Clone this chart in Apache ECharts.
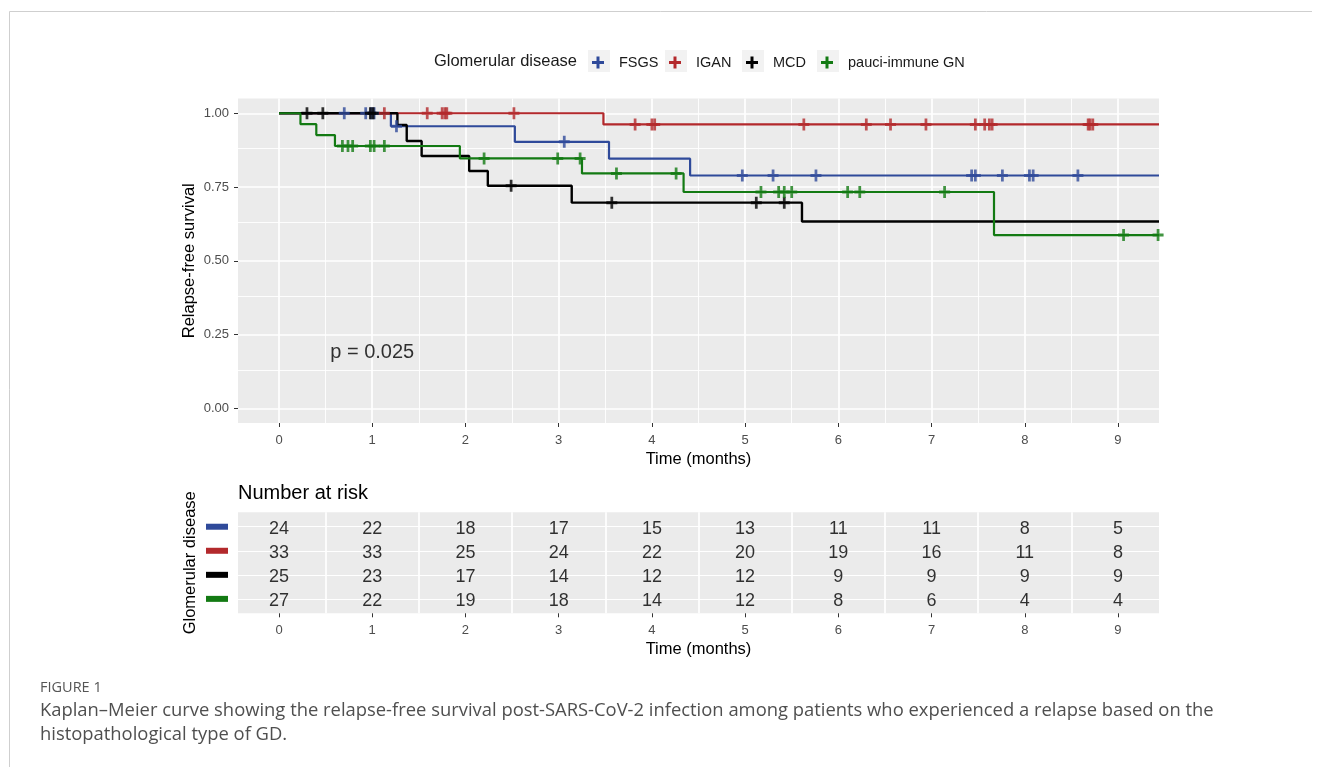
<!DOCTYPE html>
<html><head><meta charset="utf-8">
<script src="https://cdn.jsdelivr.net/npm/echarts@6/dist/echarts.min.js"></script>
<style>html,body{margin:0;padding:0;background:#fff}#c{width:1322px;height:767px}</style>
</head><body><div id="c"></div>
<script>
// ---------- data ----------
const groups = ['FSGS', 'IGAN', 'MCD', 'pauci-immune GN'];
const xTicks = [0, 1, 2, 3, 4, 5, 6, 7, 8, 9];
const yTicks = [0, 0.25, 0.5, 0.75, 1];
const xRange = [-0.44, 9.44];
const yRange = [-0.05, 1.05];

const fsgsTimes = [0, 1.20, 2.53, 3.54, 4.41];
const fsgsSurv  = [1, 0.956, 0.903, 0.846, 0.789];
const fsgsCensor = [0.70, 0.93, 0.99, 1.02, 1.26, 3.06, 4.97, 5.30, 5.76, 7.43, 7.47, 7.76, 8.05, 8.09, 8.57];

const iganTimes = [0, 3.48];
const iganSurv  = [1, 0.962];
const iganCensor = [1.13, 1.59, 1.75, 1.78, 1.80, 2.52, 3.82, 4.00, 4.03, 5.63, 6.30, 6.56, 6.94, 7.47, 7.57, 7.62, 7.65, 8.68, 8.70, 8.73];

const mcdTimes = [0, 1.27, 1.37, 1.53, 2.04, 2.24, 3.14, 5.61];
const mcdSurv  = [1, 0.96, 0.906, 0.855, 0.804, 0.754, 0.697, 0.633];
const mcdCensor = [0.30, 0.47, 0.98, 1.01, 2.49, 3.57, 5.12, 5.42];

const pauciTimes = [0, 0.23, 0.40, 0.60, 1.94, 3.25, 4.34, 7.67];
const pauciSurv  = [1, 0.963, 0.926, 0.889, 0.847, 0.796, 0.733, 0.587];
const pauciCensor = [0.68, 0.74, 0.79, 0.98, 1.02, 1.13, 2.20, 2.99, 3.23, 3.62, 4.26, 5.17, 5.36, 5.42, 5.50, 6.10, 6.23, 7.14, 9.06, 9.43];

const riskTimes = [0, 1, 2, 3, 4, 5, 6, 7, 8, 9];
const riskFSGS  = [24, 22, 18, 17, 15, 13, 11, 11, 8, 5];
const riskIGAN  = [33, 33, 25, 24, 22, 20, 19, 16, 11, 8];
const riskMCD   = [25, 23, 17, 14, 12, 12, 9, 9, 9, 9];
const riskPauci = [27, 22, 19, 18, 14, 12, 8, 6, 4, 4];

const pText = 'p = 0.025';
const pPos = [1.0, 0.19];

// ---------- styling ----------
const colors = ['#2F4A9A', '#B3292C', '#000000', '#137A13'];
const FONT = '"Liberation Sans", Arial, sans-serif';
const CAPFONT = '"Open Sans", sans-serif';
const plusPath = 'path://M4.5,0H7.5V4.5H12V7.5H7.5V12H4.5V7.5H0V4.5H4.5Z';

const times = [fsgsTimes, iganTimes, mcdTimes, pauciTimes];
const survs = [fsgsSurv, iganSurv, mcdSurv, pauciSurv];
const censors = [fsgsCensor, iganCensor, mcdCensor, pauciCensor];
const risks = [riskFSGS, riskIGAN, riskMCD, riskPauci];

function survAt(tArr, sArr, t) {
  let s = sArr[0];
  for (let i = 0; i < tArr.length; i++) if (tArr[i] <= t) s = sArr[i];
  return s;
}

const series = [];
const minorX = xTicks.slice(0, -1).map(v => v + 0.5);
const minorY = yTicks.slice(0, -1).map(v => v + 0.125);
function gridLineSeries(xi, items, width) {
  return {
    type: 'line', xAxisIndex: xi, yAxisIndex: xi, data: [], z: 1, silent: true, animation: false,
    markLine: { z: 1, silent: true, symbol: ['none', 'none'], label: { show: false }, animation: false,
      lineStyle: { color: '#FFFFFF', width: width, type: 'solid' },
      emphasis: { disabled: true },
      data: items }
  };
}
series.push(gridLineSeries(0, minorX.map(v => ({ xAxis: v })).concat(minorY.map(v => ({ yAxis: v }))), 0.9));
series.push(gridLineSeries(0, xTicks.map(v => ({ xAxis: v })).concat(yTicks.map(v => ({ yAxis: v }))), 1.7));
series.push(gridLineSeries(1, minorX.map(v => ({ xAxis: v })), 1.7));
series.push(gridLineSeries(1, [1, 2, 3, 4].map(v => ({ yAxis: v })), 1.1));

groups.forEach((g, i) => {
  const d = times[i].map((t, k) => [t, survs[i][k]]);
  d.push([xRange[1], survs[i][survs[i].length - 1]]);
  series.push({
    name: g, type: 'line', step: 'end', data: d, xAxisIndex: 0, yAxisIndex: 0,
    symbol: 'none', showSymbol: false, color: colors[i], z: 3,
    lineStyle: { width: i === 2 ? 2.4 : 2.2, color: colors[i] }, animation: false
  });
});
groups.forEach((g, i) => {
  series.push({
    name: g + ' censor', type: 'scatter', xAxisIndex: 0, yAxisIndex: 0,
    symbol: plusPath, symbolSize: [11, 12], z: 4,
    itemStyle: { color: colors[i] }, animation: false,
    data: censors[i].map(t => [t, survAt(times[i], survs[i], t)])
  });
});
series.push({
  type: 'scatter', xAxisIndex: 0, yAxisIndex: 0, symbolSize: 1, z: 5,
  itemStyle: { color: 'transparent' }, silent: true, animation: false,
  data: [pPos],
  label: { show: true, position: 'inside', formatter: pText, fontSize: 20, color: '#000', fontFamily: FONT }
});
groups.forEach((g, i) => {
  series.push({
    type: 'scatter', xAxisIndex: 1, yAxisIndex: 1, symbolSize: 1, z: 5,
    itemStyle: { color: 'transparent' }, silent: true, animation: false,
    data: riskTimes.map((t, k) => [t, i + 1, risks[i][k]]),
    label: { show: true, position: 'inside', offset: [0, 2], formatter: p => String(p.value[2]), fontSize: 18, color: '#000', fontFamily: FONT }
  });
});

function xAxisCfg(gi) {
  return {
    type: 'value', gridIndex: gi, min: xRange[0], max: xRange[1], splitNumber: 10,
    axisLine: { show: false, onZero: false },
    axisTick: { show: true, length: 4, lineStyle: { color: '#333', width: 1 }, customValues: xTicks },
    axisLabel: { customValues: xTicks, color: '#4D4D4D', fontSize: 13, margin: 11, fontFamily: FONT,
      formatter: v => (Number.isInteger(v) ? String(v) : '') },
    splitLine: { show: false },
    name: 'Time (months)', nameLocation: 'middle', nameGap: 28, nameMoveOverlap: false,
    nameTextStyle: { fontSize: 16.5, color: '#000', fontFamily: FONT }
  };
}

const richBars = {};
colors.forEach((c, i) => { richBars['g' + (i + 1)] = { width: 22, height: 6, backgroundColor: c }; });

const legendBoxes = [588, 665, 742, 817];
const legends = groups.map((g, i) => ({
  data: [g], left: legendBoxes[i] + 4, top: 55, itemWidth: 14, itemHeight: 12, icon: plusPath,
  selectedMode: false, padding: 0,
  textStyle: { fontSize: 14.5, color: '#1A1A1A', fontFamily: FONT, padding: [0, 0, 0, 9] }
}));

const graphics = [
  { type: 'line', shape: { x1: 9.5, y1: 11.5, x2: 1312, y2: 11.5 }, style: { stroke: '#CFCFCF', lineWidth: 1 } },
  { type: 'line', shape: { x1: 9.5, y1: 11.5, x2: 9.5, y2: 767 }, style: { stroke: '#CFCFCF', lineWidth: 1 } },
  { type: 'text', x: 577, y: 61, style: { text: 'Glomerular disease', fontSize: 16.5, fill: '#1A1A1A', fontFamily: FONT, align: 'right', verticalAlign: 'middle' } },
  { type: 'text', x: 238, y: 493, style: { text: 'Number at risk', fontSize: 20, fill: '#000', fontFamily: FONT, align: 'left', verticalAlign: 'middle' } },
  { type: 'text', x: 40, y: 688, style: { text: 'FIGURE 1', fontSize: 14.5, fill: '#555', fontFamily: CAPFONT, align: 'left', verticalAlign: 'middle' } },
  { type: 'text', x: 40, y: 711, style: { text: 'Kaplan–Meier curve showing the relapse-free survival post-SARS-CoV-2 infection among patients who experienced a relapse based on the', fontSize: 18.4, fill: '#4F4F4F', fontFamily: CAPFONT, align: 'left', verticalAlign: 'middle' } },
  { type: 'text', x: 40, y: 735, style: { text: 'histopathological type of GD.', fontSize: 18.4, fill: '#4F4F4F', fontFamily: CAPFONT, align: 'left', verticalAlign: 'middle' } }
];
legendBoxes.forEach(x => graphics.push({ type: 'rect', z: -1, shape: { x: x, y: 50, width: 22, height: 22 }, style: { fill: '#F2F2F2' } }));

const option = {
  animation: false,
  backgroundColor: '#FFFFFF',
  textStyle: { fontFamily: FONT },
  grid: [
    { left: 238, right: 163, top: 98.5, height: 324.5, show: true, backgroundColor: '#EBEBEB', borderWidth: 0 },
    { left: 238, right: 163, top: 512.3, height: 101, show: true, backgroundColor: '#EBEBEB', borderWidth: 0 }
  ],
  xAxis: [xAxisCfg(0), xAxisCfg(1)],
  yAxis: [
    { type: 'value', gridIndex: 0, min: yRange[0], max: yRange[1],
      axisLine: { show: false, onZero: false },
      axisTick: { show: true, length: 4, lineStyle: { color: '#333', width: 1 }, customValues: yTicks },
      axisLabel: { customValues: yTicks, color: '#4D4D4D', fontSize: 13, margin: 9, fontFamily: FONT,
        formatter: v => (yTicks.indexOf(v) >= 0 ? v.toFixed(2) : '') },
      splitLine: { show: false },
      name: 'Relapse-free survival', nameLocation: 'middle', nameGap: 40, nameMoveOverlap: false,
      nameTextStyle: { fontSize: 16.5, color: '#000', fontFamily: FONT } },
    { type: 'value', gridIndex: 1, min: 0.4, max: 4.6, inverse: true,
      axisLine: { show: false, onZero: false },
      axisTick: { show: false },
      axisLabel: { customValues: [1, 2, 3, 4], margin: 10, formatter: v => '{g' + v + '|}', rich: richBars },
      splitLine: { show: false },
      name: 'Glomerular disease', nameLocation: 'middle', nameGap: 39, nameMoveOverlap: false,
      nameTextStyle: { fontSize: 16.5, color: '#000', fontFamily: FONT } }
  ],
  legend: legends,
  graphic: graphics,
  series: series
};

const chart = echarts.init(document.getElementById('c'), null, { renderer: 'canvas' });
chart.setOption(option);
</script>
</body></html>
